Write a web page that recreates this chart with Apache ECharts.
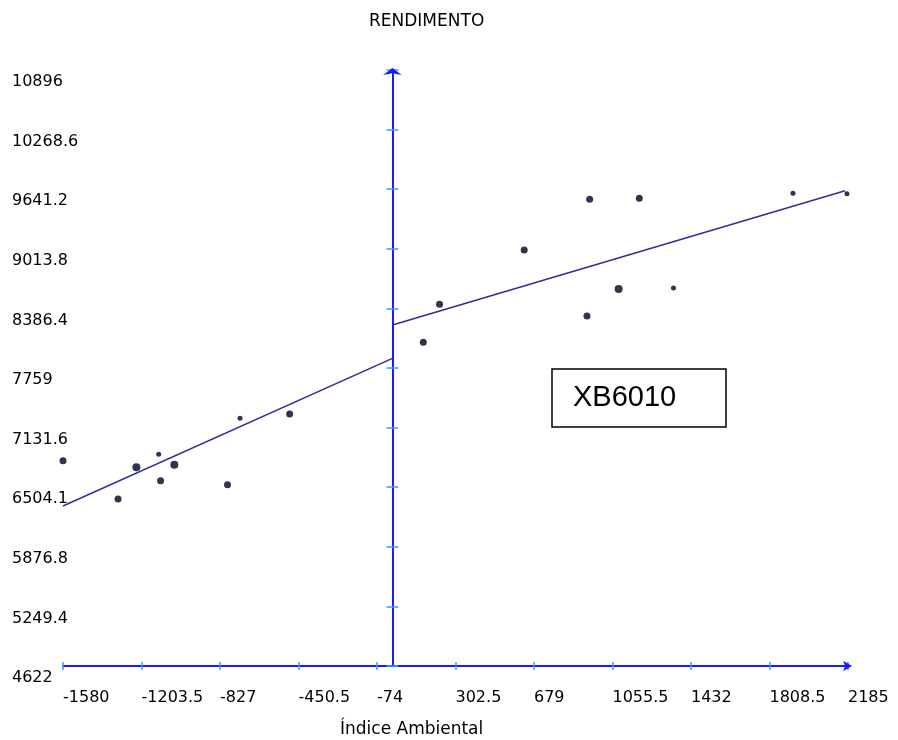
<!DOCTYPE html>
<html>
<head>
<meta charset="utf-8">
<script src="https://cdn.jsdelivr.net/npm/echarts@6/dist/echarts.min.js"></script>
<style>html,body{margin:0;padding:0;background:#fff;}#c{width:898px;height:740px;}</style>
</head>
<body>
<div id="c"></div>
<script>
// ---- data ----
const chartTitle = 'RENDIMENTO';
const xName = 'Índice Ambiental';
const boxLabel = 'XB6010';
const xTickLabels = ['-1580', '-1203.5', '-827', '-450.5', '-74', '302.5', '679', '1055.5', '1432', '1808.5', '2185'];
const yTickLabels = ['4622', '5249.4', '5876.8', '6504.1', '7131.6', '7759', '8386.4', '9013.8', '9641.2', '10268.6', '10896'];
const xMin = -1580, xMax = 2185, xStep = 376.5;
const yMin = 4622, yMax = 10896, yStep = 627.4;
// points (x, y) grouped by marker size in the picture
const pointsNormal = [[-1580, 6783], [-1316, 6380], [-1112, 6573], [-791, 6531], [-493, 7275],
  [148, 8030], [226, 8430], [632, 9001], [946, 9535], [1184, 9545], [933, 8306]];
const pointsLarge = [[-1228, 6714], [-1046, 6741], [1085, 8591]];
const pointsSmall = [[-1121, 6851], [-731, 7230], [1348, 8601], [1921, 9598], [2180, 9594]];
// fitted lines on each side of zero
const fitLeft = [[-1580, 6306], [0, 7861]];
const fitRight = [[0, 8212], [2171, 9625]];

const chart = echarts.init(document.getElementById('c'), null, {renderer: 'canvas'});
const font = 'DejaVu Sans';
const axisBlue = '#1a1aff';
const tickBlue = '#3d9bff';
const dotColor = '#000020';
const lineColor = '#2e2e9c';

function yLab(v) {
  const i = Math.round((v - yMin) / yStep);
  return yTickLabels[i] !== undefined ? yTickLabels[i] : '';
}
function xLab(v) {
  const i = Math.round((v - xMin) / xStep);
  return xTickLabels[i] !== undefined ? xTickLabels[i] : '';
}

const baseX = {type: 'value', min: xMin, max: xMax, interval: xStep, position: 'bottom', splitLine: {show: false}};
const baseY = {type: 'value', min: yMin, max: yMax, interval: yStep, splitLine: {show: false}};

chart.setOption({
  animation: false,
  backgroundColor: '#ffffff',
  title: [
    {text: chartTitle, left: 364, top: 8, textStyle: {fontFamily: font, fontSize: 17, fontWeight: 'normal', color: '#000'}},
    {text: xName, left: 335, top: 716, textStyle: {fontFamily: font, fontSize: 17, fontWeight: 'normal', color: '#000'}}
  ],
  grid: {left: 63, right: 50, top: 70, bottom: 74, containLabel: false, outerBoundsMode: 'none'},
  xAxis: [
    Object.assign({}, baseX, {
      axisLine: {show: true, onZero: false, symbol: ['none', 'arrow'], symbolSize: [8, 9], symbolOffset: [0, 4], lineStyle: {color: axisBlue, width: 2}},
      axisTick: {show: true, inside: false, length: 4, lineStyle: {color: tickBlue, width: 1.5}},
      axisLabel: {show: true, align: 'left', margin: 24, formatter: xLab, fontFamily: font, fontSize: 16, color: '#000', showMinLabel: true, showMaxLabel: true}
    }),
    Object.assign({}, baseX, {
      axisLine: {show: false, onZero: false},
      axisTick: {show: true, inside: true, length: 4, lineStyle: {color: tickBlue, width: 1.5}},
      axisLabel: {show: false}
    })
  ],
  yAxis: [
    Object.assign({}, baseY, {
      position: 'left',
      axisLine: {show: false, onZero: false},
      axisTick: {show: false},
      axisLabel: {show: true, align: 'left', verticalAlign: 'top', margin: 51, padding: [4, 0, 0, 0], formatter: yLab, fontFamily: font, fontSize: 16, color: '#000', showMinLabel: true, showMaxLabel: true}
    }),
    Object.assign({}, baseY, {
      position: 'left',
      axisLine: {show: false, onZero: true, onZeroAxisIndex: 0},
      axisTick: {show: true, inside: false, length: 6, lineStyle: {color: tickBlue, width: 1.5}},
      axisLabel: {show: false}
    }),
    Object.assign({}, baseY, {
      position: 'left',
      axisLine: {show: true, onZero: true, onZeroAxisIndex: 0, symbol: ['none', 'arrow'], symbolSize: [14, 7], symbolOffset: [0, 2], lineStyle: {color: axisBlue, width: 2}},
      axisTick: {show: true, inside: true, length: 6, lineStyle: {color: tickBlue, width: 1.5}},
      axisLabel: {show: false}
    })
  ],
  graphic: [
    {type: 'rect', shape: {x: 552, y: 369, width: 174, height: 58}, style: {fill: '#fff', stroke: '#000', lineWidth: 1.5}, z: 10},
    {type: 'text', x: 573, y: 398, style: {text: boxLabel, fontFamily: 'Liberation Sans', fontSize: 29, fill: '#000', verticalAlign: 'middle'}, z: 11}
  ],
  series: [
    {type: 'line', data: fitLeft, xAxisIndex: 0, yAxisIndex: 0, symbol: 'none', lineStyle: {color: lineColor, width: 1.5}, z: 3},
    {type: 'line', data: fitRight, xAxisIndex: 0, yAxisIndex: 0, symbol: 'none', lineStyle: {color: lineColor, width: 1.5}, z: 3},
    {type: 'scatter', data: pointsNormal, xAxisIndex: 0, yAxisIndex: 0, symbol: 'circle', symbolSize: 7, itemStyle: {color: dotColor}, z: 4},
    {type: 'scatter', data: pointsLarge, xAxisIndex: 0, yAxisIndex: 0, symbol: 'circle', symbolSize: 8, itemStyle: {color: dotColor}, z: 4},
    {type: 'scatter', data: pointsSmall, xAxisIndex: 0, yAxisIndex: 0, symbol: 'circle', symbolSize: 5, itemStyle: {color: dotColor}, z: 4}
  ]
});
</script>
</body>
</html>
